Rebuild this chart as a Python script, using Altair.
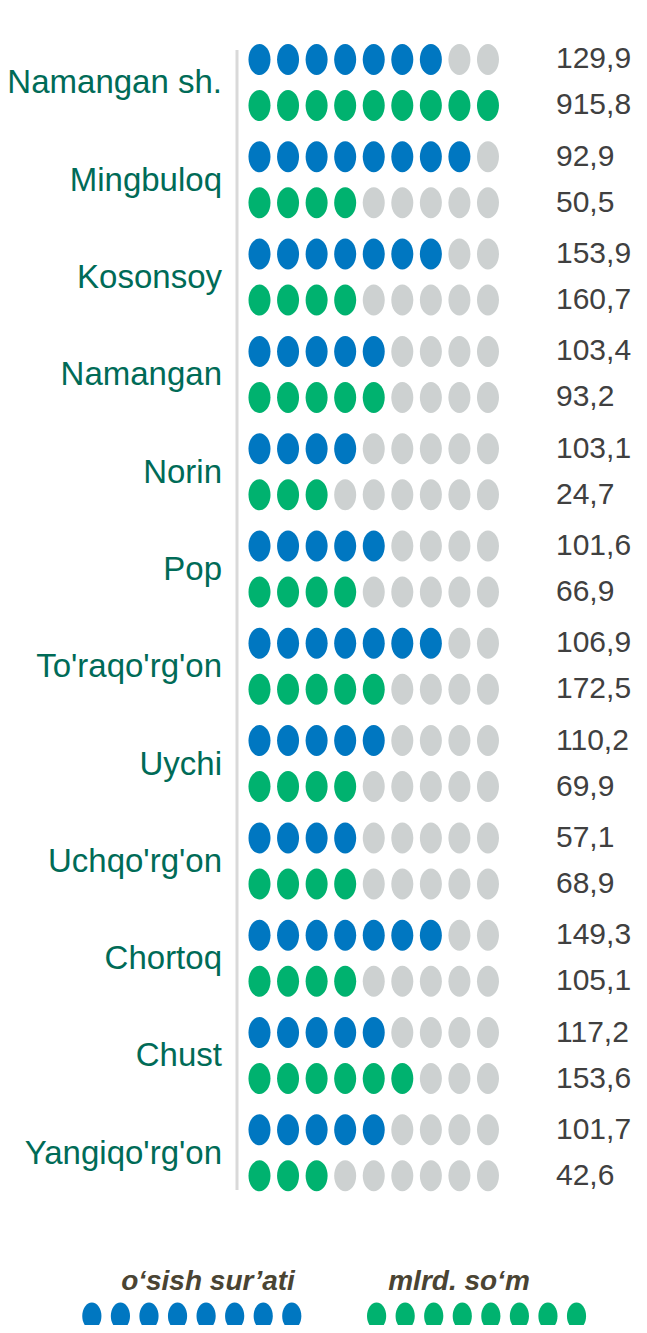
import altair as alt
import pandas as pd

districts = ["Namangan sh.", "Mingbuloq", "Kosonsoy", "Namangan", "Norin", "Pop",
             "To'raqo'rg'on", "Uychi", "Uchqo'rg'on", "Chortoq", "Chust", "Yangiqo'rg'on"]
growth_vals = ["129,9", "92,9", "153,9", "103,4", "103,1", "101,6",
               "106,9", "110,2", "57,1", "149,3", "117,2", "101,7"]
volume_vals = ["915,8", "50,5", "160,7", "93,2", "24,7", "66,9",
               "172,5", "69,9", "68,9", "105,1", "153,6", "42,6"]
growth_dots = [7, 8, 7, 5, 4, 5, 7, 5, 4, 7, 5, 5]
volume_dots = [9, 4, 4, 5, 3, 4, 5, 4, 4, 4, 6, 3]
n_slots = 9
legend_titles = ["o\u2018sish sur\u2019ati", "mlrd. so\u2018m"]
legend_dots = 8

BLUE = "#0077C1"
GREEN = "#00B26F"
GREY = "#CDD1D1"
LABEL = "#006B57"
VALUE = "#404040"
LEG_TXT = "#4A4433"
FONT = "Liberation Sans, Arial, sans-serif"

ELLIPSE = ("M0,-1 C0.392,-1 0.71,-0.552 0.71,0 C0.71,0.552 0.392,1 0,1 "
           "C-0.392,1 -0.71,0.552 -0.71,0 C-0.71,-0.552 -0.392,-1 0,-1 Z")

GREEN_OFF = 0.473

dot_rows = []
val_rows = []
lab_rows = []
for k, name in enumerate(districts):
    for s, (cnt, val, off) in enumerate([(growth_dots[k], growth_vals[k], 0.0),
                                          (volume_dots[k], volume_vals[k], GREEN_OFF)]):
        for i in range(n_slots):
            kind = ("blue" if s == 0 else "green") if i < cnt else "grey"
            dot_rows.append({"i": i, "row": k + off, "kind": kind})
        val_rows.append({"row": k + off, "val": val})
    lab_rows.append({"row": k + GREEN_OFF / 2 + 0.01, "name": name})

leg_rows = []
for i in range(legend_dots):
    leg_rows.append({"li": i - 5.87, "kind": "blue"})
    leg_rows.append({"li": i + 4.1, "kind": "green"})

dots_df = pd.DataFrame(dot_rows)
vals_df = pd.DataFrame(val_rows)
labs_df = pd.DataFrame(lab_rows)
leg_df = pd.DataFrame(leg_rows)
legtxt_df = pd.DataFrame({"t": legend_titles, "x": [200, 451]})

W, H = 631, 1317
xs = alt.Scale(domain=[-8.806, 13.288], nice=False, zero=False)
ys = alt.Scale(domain=[-0.529, 13.006], nice=False, zero=False, reverse=True)
cs = alt.Scale(domain=["blue", "green", "grey"], range=[BLUE, GREEN, GREY])

dots = alt.Chart(dots_df).mark_point(shape=ELLIPSE, filled=True, opacity=1, size=961).encode(
    x=alt.X("i:Q", scale=xs, axis=None),
    y=alt.Y("row:Q", scale=ys, axis=None),
    color=alt.Color("kind:N", scale=cs, legend=None),
)

values = alt.Chart(vals_df).mark_text(align="left", baseline="middle", font=FONT,
                                      fontSize=30, color=VALUE).encode(
    x=alt.value(548),
    y=alt.Y("row:Q", scale=ys, axis=None),
    text="val:N",
)

labels = alt.Chart(labs_df).mark_text(align="right", baseline="middle", font=FONT,
                                      fontSize=33, color=LABEL).encode(
    x=alt.value(214),
    y=alt.Y("row:Q", scale=ys, axis=None),
    text="name:N",
)

rule = alt.Chart(pd.DataFrame({"a": [0]})).mark_rule(color="#D9D9D9", strokeWidth=3).encode(
    x=alt.value(229), y=alt.value(42), y2=alt.value(1182)
)

leg_dots = alt.Chart(leg_df).mark_point(shape=ELLIPSE, filled=True, opacity=1, size=729).encode(
    x=alt.X("li:Q", scale=xs, axis=None),
    y=alt.value(1308),
    color=alt.Color("kind:N", scale=cs, legend=None),
)

leg_txt = alt.Chart(legtxt_df).mark_text(align="center", baseline="middle", font=FONT,
                                         fontSize=28, fontWeight="bold", fontStyle="italic",
                                         color=LEG_TXT).encode(
    x=alt.X("x:Q", scale=alt.Scale(domain=[0, W], nice=False, zero=False), axis=None),
    y=alt.value(1274),
    text="t:N",
)

chart = alt.layer(rule, dots, values, labels, leg_dots, leg_txt).resolve_scale(
    x="independent"
).properties(
    width=W, height=H, padding=0, autosize=alt.AutoSizeParams(type="none")
).configure_view(stroke=None)

chart.save("out.html", embed_options={"renderer": "svg", "actions": False})
